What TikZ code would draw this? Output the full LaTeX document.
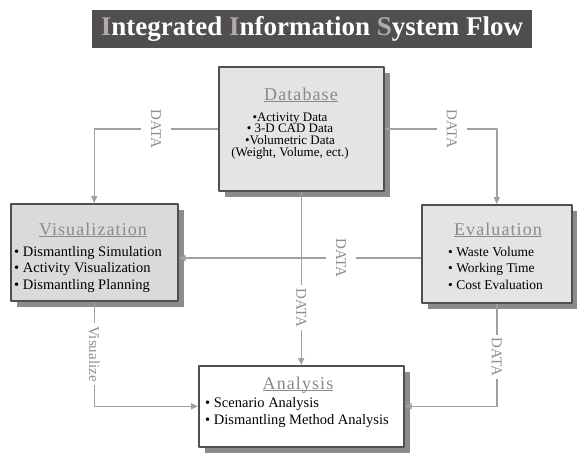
\documentclass[tikz,border=0pt]{standalone}
\usepackage{fontspec}
\setmainfont{Liberation Serif}
\usetikzlibrary{arrows.meta,shadows}
\definecolor{barcol}{HTML}{4F4F4F}
\definecolor{initcol}{HTML}{B5A8AC}
\definecolor{boxcol}{HTML}{E4E4E4}
\definecolor{viscol}{HTML}{DADADA}
\definecolor{edgecol}{HTML}{505050}
\definecolor{shadecol}{HTML}{8C8C8C}
\definecolor{headcol}{HTML}{8A8A8A}
\definecolor{conncol}{HTML}{A0A0A0}
\definecolor{lblcol}{HTML}{8E8E8E}
\newcommand{\headline}[1]{\underline{\smash{#1}}}

\begin{document}
\begin{tikzpicture}[x=1pt, y=-1pt, >={Triangle[length=7pt, width=6pt]}, line join=round,
	box/.style={draw=edgecol, line width=1.5pt, fill=boxcol, anchor=north west, inner sep=0pt,
		drop shadow={shadow xshift=6pt, shadow yshift=-6pt, fill=shadecol, opacity=1}},
	head/.style={text=headcol, font=\fontsize{18}{18}\selectfont\addfontfeature{LetterSpace=6}, anchor=base, inner sep=0pt},
	item/.style={font=\fontsize{14.5}{15}\selectfont, anchor=base west, inner sep=0pt},
	conn/.style={draw=conncol, line width=1.5pt, ->},
	lbl/.style={rotate=-90, fill=white, text=lblcol, font=\fontsize{15}{15}\selectfont, inner xsep=3pt, inner ysep=10pt}]
	\useasboundingbox (0, 0) rectangle (577, 453);

	% title bar
	\node[fill=barcol, minimum width=440pt, minimum height=38pt, text=white, font=\bfseries\fontsize{27}{27}\selectfont] (title) at (312, 29)
		{\textcolor{initcol}{I}ntegrated \textcolor{initcol}{I}nformation \textcolor{initcol}{S}ystem Flow};

	% boxes
	\node[box, minimum width=165pt, minimum height=124pt] (db) at (218, 66) {};
	\node[box, fill=viscol, minimum width=167pt, minimum height=97pt] (vis) at (10, 203) {};
	\node[box, minimum width=150pt, minimum height=98pt] (eva) at (421, 204) {};
	\node[box, fill=white, minimum width=205pt, minimum height=81pt] (ana) at (198, 365) {};

	% box texts
	\node[head] (dbhead) at (301, 100) {\headline{Database}};
	\foreach \t [count=\i] in {\textbullet Activity Data, \textbullet\ 3-D CAD Data, \textbullet Volumetric Data, {(Weight, Volume, ect.)}}
		\node[item, anchor=base, font=\fontsize{13}{13}\selectfont] (db\i) at (290, 109.5+11.7*\i) {\t};
	\node[head] (vishead) at (93, 235) {\headline{Visualization}};
	\foreach \t [count=\i] in {Dismantling Simulation, Activity Visualization, Dismantling Planning}
		\node[item] (vis\i) at (14, 239.5+16.5*\i) {\textbullet\ \t};
	\node[head] (evahead) at (498, 235) {\headline{Evaluation}};
	\foreach \t [count=\i] in {Waste Volume, Working Time, Cost Evaluation}
		\node[item, font=\fontsize{13.5}{14}\selectfont] (eva\i) at (448, 239.5+16.5*\i) {\textbullet\ \t};
	\node[head] (anahead) at (298, 389) {\headline{Analysis}};
	\foreach \t [count=\i] in {Scenario Analysis, Dismantling Method Analysis}
		\node[item] (ana\i) at (205, 390+17*\i) {\textbullet\ \t};

	% connectors
	\coordinate (mid) at (0, 258);
	\draw[conn] (db.west) -| node[lbl, pos=0.25] (d1) {DATA} (vis.north);
	\draw[conn] (db.east) -| node[lbl, pos=0.3] (d2) {DATA} (eva.north);
	\draw[conn] (eva.west |- mid) -- node[lbl, pos=0.33] (d3) {DATA} (vis.east |- mid);
	\draw[conn] (db.south) -- node[lbl, pos=0.67] (d4) {DATA} (ana.north);
	\draw[conn] (vis.south) |- node[lbl, pos=0.25] (v1) {Visualize} (ana.west);
	\draw[conn] (eva.south) |- node[lbl, pos=0.26] (d5) {DATA} (ana.east);
\end{tikzpicture}
\end{document}
